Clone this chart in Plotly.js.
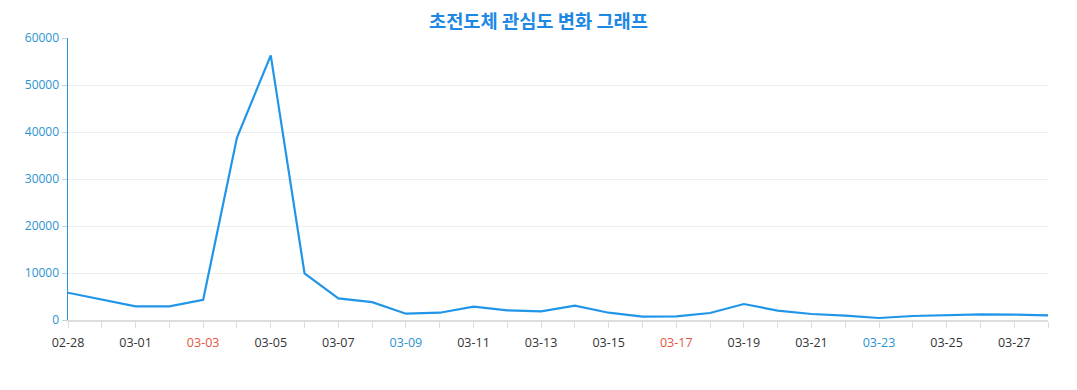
<!DOCTYPE html>
<html>
<head>
<meta charset="utf-8">
<script src="https://cdn.plot.ly/plotly-3.0.1.min.js"></script>
<style>html,body{margin:0;padding:0;background:#fff;}#chart{width:1077px;height:390px;}</style>
</head>
<body>
<div id="chart"></div>
<script>
const dates = ["02-28","02-29","03-01","03-02","03-03","03-04","03-05","03-06","03-07","03-08","03-09","03-10","03-11","03-12","03-13","03-14","03-15","03-16","03-17","03-18","03-19","03-20","03-21","03-22","03-23","03-24","03-25","03-26","03-27","03-28"];
const values = [5800,4300,2900,2900,4300,38800,56300,9900,4600,3800,1340,1550,2830,2060,1850,3050,1550,700,780,1490,3400,1990,1280,920,430,850,1000,1210,1130,1000];
const redLabels = ["03-03","03-17"];
const blueLabels = ["03-09","03-23"];
const yTicks = [0,10000,20000,30000,40000,50000,60000];

const ticktext = dates.map((d, i) => {
  if (i % 2 === 1) return "";
  if (redLabels.includes(d)) return '<span style="color:#e5553b">' + d + '</span>';
  if (blueLabels.includes(d)) return '<span style="color:#2b93d1">' + d + '</span>';
  return d;
});

const trace = {
  x: dates,
  y: values,
  type: "scatter",
  mode: "lines",
  line: {color: "#2196e8", width: 2.2},
  hoverinfo: "x+y"
};

const layout = {
  width: 1077,
  height: 390,
  margin: {l: 68, r: 29, t: 38, b: 70},
  paper_bgcolor: "#ffffff",
  plot_bgcolor: "#ffffff",
  showlegend: false,
  title: {
    text: "<b>초전도체 관심도 변화 그래프</b>",
    x: 0.5, xanchor: "center",
    y: 0.945, yanchor: "middle",
    font: {family: "Noto Sans CJK KR, sans-serif", size: 18.7, color: "#1e88e5"}
  },
  xaxis: {
    type: "category",
    range: [0, dates.length - 1],
    tickmode: "array",
    tickvals: dates,
    ticktext: ticktext,
    ticks: "outside",
    ticklen: 6,
    tickcolor: "#dddddd",
    showline: true,
    linecolor: "#dddddd",
    linewidth: 2,
    showgrid: false,
    zeroline: false,
    tickangle: 0,
    ticklabelstandoff: 4,
    tickfont: {family: "Open Sans, sans-serif", size: 12.5, color: "#333333"},
    fixedrange: true
  },
  yaxis: {
    range: [0, 60000],
    tickmode: "array",
    tickvals: yTicks,
    ticktext: yTicks.map(String),
    ticks: "outside",
    ticklen: 5,
    tickcolor: "#b9d6ea",
    showline: true,
    linecolor: "#2b93d1",
    linewidth: 1.5,
    showgrid: true,
    gridcolor: "#eeeeee",
    gridwidth: 1,
    zeroline: false,
    tickfont: {family: "Open Sans, sans-serif", size: 12, color: "#2b93d1"},
    fixedrange: true
  }
};

Plotly.newPlot("chart", [trace], layout, {displayModeBar: false, staticPlot: true});
</script>
</body>
</html>
